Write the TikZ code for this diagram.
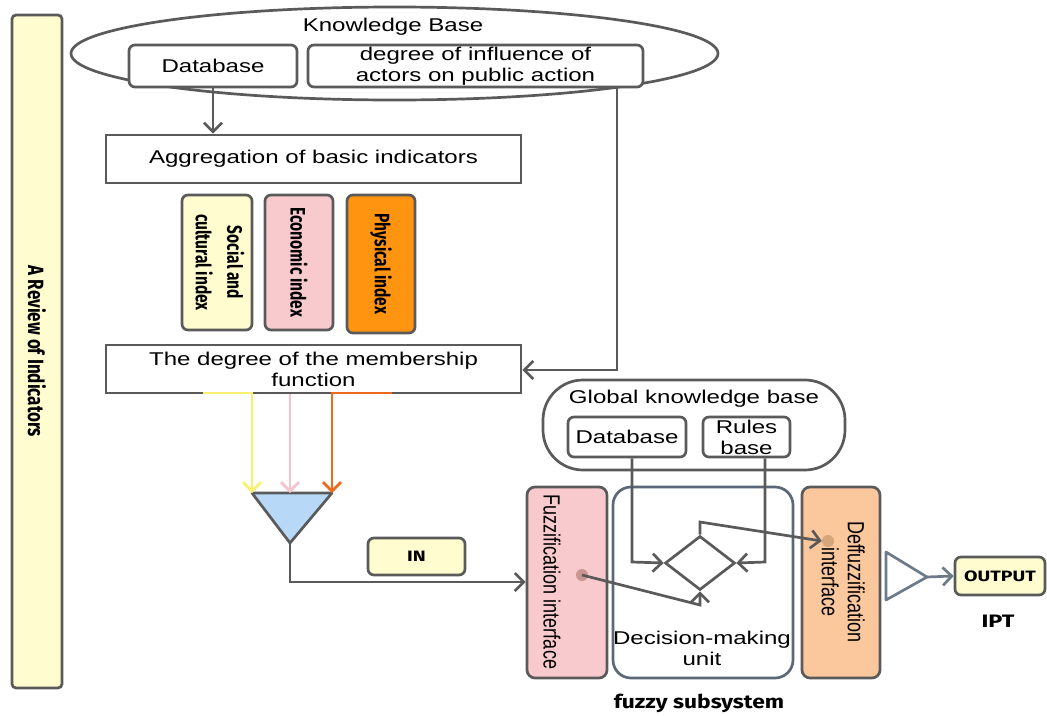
\documentclass[tikz,border=0pt]{standalone}
\usepackage{fontspec}
\setmainfont{Liberation Sans}[FakeStretch=1.3]
\newfontfamily\plainfont{Liberation Sans}
\newfontfamily\handfont{Fira Sans}
\usetikzlibrary{arrows.meta,shapes.geometric}

\definecolor{linegray}{HTML}{5A5A5A}
\definecolor{paleyellow}{HTML}{FFFCCF}
\definecolor{softpink}{HTML}{F8CACD}
\definecolor{deeporange}{HTML}{FF9410}
\definecolor{peach}{HTML}{FBC79D}
\definecolor{skyblue}{HTML}{B7D9F7}
\definecolor{yellowline}{HTML}{F8F070}
\definecolor{pinkline}{HTML}{F4C3CE}
\definecolor{orangeline}{HTML}{EE6A1E}
\definecolor{fuzzdot}{HTML}{C9958F}
\definecolor{deffdot}{HTML}{D6A57A}
\definecolor{slate}{HTML}{5A6878}
\definecolor{steel}{HTML}{6C7A8A}

\newcommand{\mainsz}{\fontsize{18.5}{21}\selectfont}
\newcommand{\handsz}[1]{\handfont\bfseries\fontsize{#1}{#1}\selectfont}

\tikzset{
  line/.style={draw=linegray, line width=2.7pt},
  box/.style={line, rectangle, fill=white, inner sep=0pt, align=center, font=\mainsz},
  rbox/.style={box, rounded corners=6pt},
  tip/.style={-{Straight Barb[length=9pt,width=18pt]}},
  arr/.style={line, tip},
  txt/.style={inner sep=0pt, align=center, font=\mainsz},
  vtxt/.style={inner sep=0pt, align=center, rotate=-90},
  dot/.style={circle, inner sep=0pt, minimum size=12pt},
}

\begin{document}
\begin{tikzpicture}[x=1pt,y=-1pt]
\useasboundingbox (0,0) rectangle (1047,715);

% side bar
\node[rbox, fill=paleyellow, rounded corners=4pt, minimum width=50pt, minimum height=673pt] (bar) at (37,351.5) {};
\node[vtxt] (bartxt) at (bar.center) {\handsz{17}\scalebox{1}[1.3]{A Review of Indicators}};

% knowledge base
\node[line, ellipse, inner sep=0pt, minimum width=647pt, minimum height=93pt] (kb) at (394.5,53.5) {};
\node[txt] (kbtxt) at (393,27) {Knowledge Base};
\node[rbox, minimum width=168pt, minimum height=42pt] (db1) at (213,66) {Database};
\node[rbox, minimum width=335pt, minimum height=42pt] (deg) at (475.5,66) {degree of influence of\\actors on public action};

% aggregation and indices
\node[box, minimum width=415pt, minimum height=48pt] (agg) at (313.5,159) {Aggregation of basic indicators};
\node[rbox, fill=paleyellow, minimum width=70pt, minimum height=135pt] (soc) at (217,262.5) {};
\node[rbox, fill=softpink, minimum width=68pt, minimum height=135pt] (eco) at (299,262.5) {};
\node[rbox, fill=deeporange, minimum width=68pt, minimum height=138pt] (phy) at (381,264) {};
\node[vtxt] (soctxt) at (soc.center) {\handsz{15.5}\scalebox{1}[1.35]{\begin{tabular}{@{}c@{}}Social and\\[6pt]cultural index\end{tabular}}};
\node[vtxt] (ecotxt) at (eco.center) {\handsz{15.5}\scalebox{1}[1.35]{Economic index}};
\node[vtxt] (phytxt) at (phy.center) {\handsz{15.5}\scalebox{1}[1.35]{Physical index}};

\node[box, minimum width=415pt, minimum height=48pt] (memb) at (313.5,369) {The degree of the membership\\function};

% mixing triangle
\coordinate (mixL) at (252,493);
\coordinate (mixM) at (290,493);
\coordinate (mixR) at (332,493);
\coordinate (mixA) at (290,543);
\draw[line, fill=skyblue, line join=round] (mixL) -- (mixR) -- (mixA) -- cycle;

\coordinate (ystart) at (203,393);
\coordinate (ostart) at (392,393);
\draw[line width=2.7pt, draw=yellowline, tip] (ystart) -| (mixL);
\draw[line width=2.7pt, draw=pinkline, tip] (mixM |- memb.south) -- (mixM);
\draw[line width=2.7pt, draw=orangeline, tip] (ostart) -| (mixR);

\node[rbox, fill=paleyellow, minimum width=97pt, minimum height=37pt] (in) at (416.5,556.5) {\handsz{15}\scalebox{1.3}[1]{IN}};

% fuzzy subsystem
\node[line, rectangle, rounded corners=40pt, inner sep=0pt, minimum width=302pt, minimum height=90pt] (gkb) at (694,425) {};
\node[txt] (gkbtxt) at (694,399) {Global knowledge base};
\node[rbox, minimum width=118pt, minimum height=40pt] (db2) at (627,437) {Database};
\node[rbox, minimum width=87pt, minimum height=40pt] (rules) at (746.5,437) {Rules\\base};

\node[rbox, fill=softpink, rounded corners=8pt, minimum width=80pt, minimum height=191pt] (fuzz) at (567,582.5) {};
\node[rbox, draw=slate, rounded corners=18pt, minimum width=180pt, minimum height=191pt] (dec) at (703,582.5) {};
\node[rbox, fill=peach, rounded corners=8pt, minimum width=78pt, minimum height=191pt] (deff) at (841,582.5) {};
\node[vtxt] (fuzztxt) at (552,582) {\plainfont\fontsize{18}{20}\selectfont\scalebox{1}[1.3]{Fuzzification interface}};
\node[vtxt] (defftxt) at (840,582) {\plainfont\fontsize{18}{20}\selectfont\scalebox{1}[1.3]{\begin{tabular}{@{}c@{}}Deffuzzification\\interface\end{tabular}}};
\node[txt] (dectxt) at (702,648) {Decision-making\\unit};

\node[dot, fill=fuzzdot] (fdot) at (582,575) {};
\node[dot, fill=deffdot] (ddot) at (828,541) {};

\node[line, diamond, inner sep=0pt, minimum width=70pt, minimum height=54pt] (dm) at (700,563) {};

\coordinate (dbdrop) at (632,562);
\coordinate (rbdrop) at (765,562);
\coordinate (dmout) at (700,522);
\coordinate (dmin) at (700,605);
\draw[arr] (dbdrop |- db2.south) -- (dbdrop) -- (dm.west);
\draw[arr] (rbdrop |- rules.south) -- (rbdrop) -- (dm.east);
\draw[arr] (dm.north) -- (dmout) -- (ddot.west);
\draw[arr] (fdot.center) -- (dmin) -- (dm.south);

% connectors of the left part
\draw[arr] (db1.south) -- (db1.south |- agg.north);
\coordinate (kbturn) at (617,370);
\draw[arr] (kbturn |- deg.south) -- (kbturn) -- (memb.east |- kbturn);
\coordinate (inturn) at (290,582);
\draw[arr] (mixA) -- (inturn) -- (fuzz.west |- inturn);

% output stage
\coordinate (o1) at (886,552);
\coordinate (o2) at (886,600);
\coordinate (oA) at (927,577);
\draw[line, draw=steel, fill=white, line join=round] (o1) -- (oA) -- (o2) -- cycle;
\node[rbox, fill=paleyellow, minimum width=90pt, minimum height=38pt] (out) at (1000,576) {\handsz{15}\scalebox{1.3}[1]{OUTPUT}};
\draw[line, draw=steel, tip] (oA) -- (out.west);
\node[inner sep=0pt] (ipt) at (998,621) {\handsz{18}\scalebox{1.3}[1]{IPT}};

\node[inner sep=0pt] (fztxt) at (699,703) {\handsz{19}\scalebox{1.2}[1]{fuzzy subsystem}};
\end{tikzpicture}
\end{document}
